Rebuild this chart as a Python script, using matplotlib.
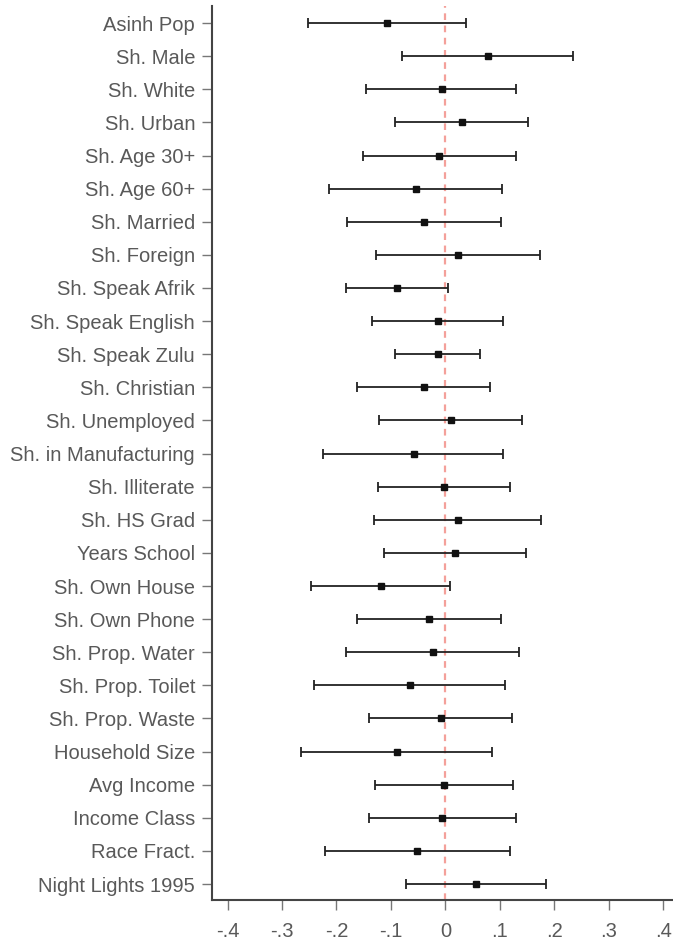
import matplotlib
matplotlib.use("Agg")
import matplotlib.pyplot as plt
import numpy as np

labels = ["Asinh Pop", "Sh. Male", "Sh. White", "Sh. Urban", "Sh. Age 30+", "Sh. Age 60+",
          "Sh. Married", "Sh. Foreign", "Sh. Speak Afrik", "Sh. Speak English",
          "Sh. Speak Zulu", "Sh. Christian", "Sh. Unemployed", "Sh. in Manufacturing",
          "Sh. Illiterate", "Sh. HS Grad", "Years School", "Sh. Own House",
          "Sh. Own Phone", "Sh. Prop. Water", "Sh. Prop. Toilet", "Sh. Prop. Waste",
          "Household Size", "Avg Income", "Income Class", "Race Fract.", "Night Lights 1995"]

coef = [-0.1065, 0.0784, -0.0066, 0.030, -0.011, -0.0545, -0.0385, 0.0227, -0.0887,
        -0.0134, -0.014, -0.040, 0.0105, -0.058, -0.0024, 0.0227, 0.0184, -0.1187,
        -0.0306, -0.0226, -0.0655, -0.0085, -0.0893, -0.0018, -0.0055, -0.0514, 0.0564]
ci_low = [-0.252, -0.079, -0.145, -0.0924, -0.152, -0.214, -0.1805, -0.128, -0.182,
          -0.134, -0.0918, -0.163, -0.1218, -0.224, -0.1236, -0.1315, -0.113, -0.246,
          -0.1628, -0.183, -0.2405, -0.1396, -0.265, -0.129, -0.1407, -0.221, -0.0716]
ci_high = [0.0374, 0.235, 0.130, 0.151, 0.130, 0.104, 0.1017, 0.174, 0.0044,
           0.1066, 0.063, 0.082, 0.1415, 0.106, 0.1188, 0.1758, 0.148, 0.0086,
           0.1017, 0.136, 0.1097, 0.1225, 0.0852, 0.1243, 0.129, 0.118, 0.185]
xticks = [-0.4, -0.3, -0.2, -0.1, 0.0, 0.1, 0.2, 0.3, 0.4]
xticklabels = ["-.4", "-.3", "-.2", "-.1", "0", ".1", ".2", ".3", ".4"]

plt.rcParams['font.family'] = ['Liberation Sans', 'DejaVu Sans']

fig = plt.figure(figsize=(6.73, 9.41), dpi=100)
ax = fig.add_axes([0.3146, 0.0436, 0.6854, 0.9495])

y = np.arange(len(labels))
coef_a = np.array(coef)
err = np.vstack([coef_a - np.array(ci_low), np.array(ci_high) - coef_a])

ax.axvline(0, color="#f4a09a", lw=1.6, ls=(0, (3.0, 2.5)), zorder=1)
ax.errorbar(coef_a, y, xerr=err, fmt="s", color="#111111", ecolor="#222222",
            elinewidth=1.3, capsize=3.6, capthick=1.3, markersize=3.8, zorder=3)

ax.set_xlim(-0.429, 0.418)
ax.set_ylim(26.48, -0.5)
ax.set_yticks(y)
ax.set_yticklabels(labels)
ax.set_xticks(xticks)
ax.set_xticklabels(xticklabels)

for s in ["top", "right"]:
    ax.spines[s].set_visible(False)
for s in ["left", "bottom"]:
    ax.spines[s].set_color("#444444")
    ax.spines[s].set_linewidth(1.5)

ax.tick_params(axis="y", length=7, width=1.0, color="#777777", pad=5,
               labelsize=14.5, labelcolor="#595959")
ax.tick_params(axis="x", length=7, width=1.0, color="#777777", pad=9,
               labelsize=14.5, labelcolor="#595959")

fig.savefig("out.png", dpi=100)
